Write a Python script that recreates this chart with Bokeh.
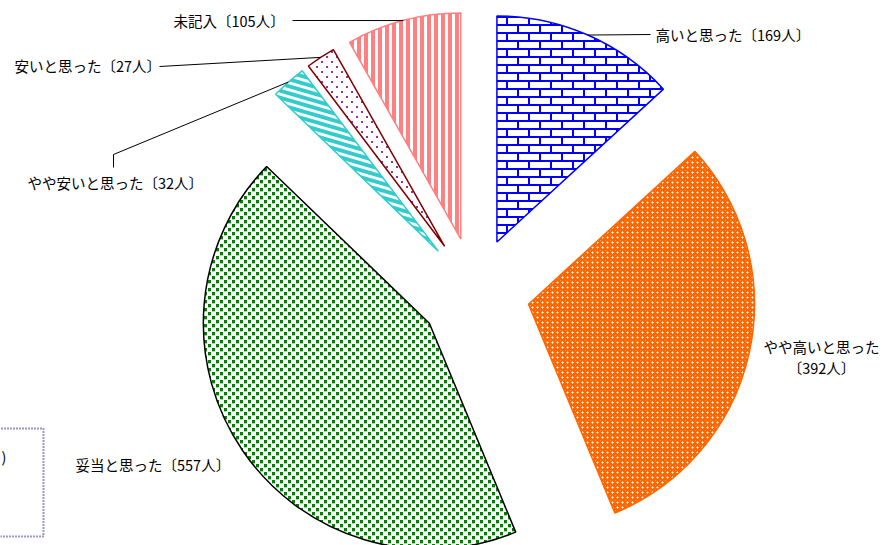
import math, base64
from bokeh.plotting import figure
from bokeh.models import ColumnDataSource, Range1d, ImageURLTexture
from bokeh.core.properties import value
from bokeh.embed import file_html
from bokeh.resources import INLINE

# ---- data ----
categories = ["高いと思った", "やや高いと思った", "妥当と思った", "やや安いと思った", "安いと思った", "未記入"]
counts = [169, 392, 557, 32, 27, 105]
label_texts = ["高いと思った〔169人〕", "やや高いと思った\n〔392人〕", "妥当と思った〔557人〕",
               "やや安いと思った〔32人〕", "安いと思った〔27人〕", "未記入〔105人〕"]

# ---- styles ----
line_colors = ["#0000FF", "#FF6600", "#000000", "#33CCCC", "#800000", "#FF8080"]
line_widths = [1.5, 1.5, 1.5, 1.5, 1.5, 1.5]
patterns = ["brick", "orangeplaid", "greenconf", "cyanstripe", "purpledots", "pinkstripe"]

def svg_uri(body, w, h, crisp=True):
    sr = " shape-rendering='crispEdges'" if crisp else ""
    s = (f"<svg xmlns='http://www.w3.org/2000/svg' width='{w}' height='{h}'{sr}>"
         f"<rect width='{w}' height='{h}' fill='white'/>{body}</svg>")
    return "data:image/svg+xml;base64," + base64.b64encode(s.encode()).decode()

brick = svg_uri("<rect x='0' y='0' width='22' height='2' fill='#0000FF'/>"
                "<rect x='0' y='8' width='22' height='2' fill='#0000FF'/>"
                "<rect x='0' y='0' width='2' height='8' fill='#0000FF'/>"
                "<rect x='11' y='8' width='2' height='8' fill='#0000FF'/>", 22, 16)
orange = svg_uri("<rect width='5' height='5' fill='#FF6600'/>"
                 "<rect x='2' y='1' width='1' height='3' fill='#FFC090'/>"
                 "<rect x='1' y='2' width='3' height='1' fill='#FFC090'/>"
                 "<rect x='2' y='2' width='1' height='1' fill='#FFFFFF'/>"
                 "<rect x='0' y='0' width='1' height='1' fill='#FF9955'/>", 5, 5)
green = svg_uri("<rect x='0' y='0' width='3' height='3' fill='#008000'/>"
                "<rect x='4' y='4' width='3' height='3' fill='#008000'/>"
                "<rect x='0' y='3' width='3' height='1' fill='#A8D4A8'/>"
                "<rect x='4' y='7' width='3' height='1' fill='#A8D4A8'/>", 8, 8)
cyan = svg_uri("<polygon points='0,0 24,7 24,11 0,4' fill='#33CCCC'/>"
               "<polygon points='0,-7 24,0 24,4 0,-3' fill='#33CCCC'/>", 24, 7, crisp=False)
purple = svg_uri("<rect x='1' y='1' width='2' height='2' fill='#993399'/>"
                 "<rect x='6' y='6' width='2' height='2' fill='#993399'/>", 10, 10)
pink = svg_uri("<rect x='0' y='0' width='4' height='7' fill='#FF8080'/>", 7, 7)

hatch_extra = {
    "brick": ImageURLTexture(url=brick),
    "orangeplaid": ImageURLTexture(url=orange),
    "greenconf": ImageURLTexture(url=green),
    "cyanstripe": ImageURLTexture(url=cyan),
    "purpledots": ImageURLTexture(url=purple),
    "pinkstripe": ImageURLTexture(url=pink),
}

# ---- layout (page pixels; data y = PAGE_H - screen y) ----
W, H, PAGE_H = 883, 545, 545
CX, CY = 474.3, PAGE_H - 291.8
R = 226
EXPLODE = 55

total = sum(counts)
starts, ends, xs, ys, arc_x, arc_y = [], [], [], [], [], []
acc = 0
for c in counts:
    a0 = acc / total
    acc += c
    a1 = acc / total
    s = math.radians(90 - 360 * a1)
    e = math.radians(90 - 360 * a0)
    mid = (s + e) / 2
    x0 = CX + EXPLODE * math.cos(mid)
    y0 = CY + EXPLODE * math.sin(mid)
    starts.append(s); ends.append(e); xs.append(x0); ys.append(y0)
    arc_x.append(x0 + R * math.cos(mid)); arc_y.append(y0 + R * math.sin(mid))

src = ColumnDataSource(dict(x=xs, y=ys, start=starts, end=ends, line=line_colors,
                            lw=line_widths, hatch=patterns))

p = figure(width=W, height=H, output_backend="svg", toolbar_location=None,
           x_range=Range1d(0, W), y_range=Range1d(0, H),
           min_border=0, outline_line_color=None)
p.axis.visible = False
p.grid.visible = False
p.background_fill_color = "white"

p.wedge(x="x", y="y", radius=R, start_angle="start", end_angle="end",
        fill_color="white", line_color="line", line_width="lw",
        hatch_pattern="hatch", hatch_extra=hatch_extra, source=src)

# leader lines (label-side points, screen coords)
leader_pts = {0: [(650, 34)], 3: [(113, 154), (113, 167)], 4: [(159, 66)], 5: [(292, 20)]}
lx, ly = [], []
for i, pts in leader_pts.items():
    lx.append([arc_x[i]] + [q[0] for q in pts])
    ly.append([arc_y[i]] + [PAGE_H - q[1] for q in pts])
p.multi_line(xs=lx, ys=ly, line_color="black", line_width=1)

# labels
label_x = [655, 821, 75, 27, 14, 173]
label_y = [34, 356, 464, 182, 65, 20]
label_align = ["left", "center", "left", "left", "left", "left"]
tsrc = ColumnDataSource(dict(x=label_x, y=[PAGE_H - v for v in label_y], t=label_texts, a=label_align))
p.text(x="x", y="y", text="t", text_align="a", text_baseline="middle",
       text_font=value("Noto Sans CJK JP"), text_font_size="14.5px", text_color="black",
       text_line_height=1.0, source=tsrc)

# partially visible dotted note box at bottom-left
p.line(x=[-20, 43, 43, -20], y=[PAGE_H - 428, PAGE_H - 428, PAGE_H - 536, PAGE_H - 536],
       line_color="#333399", line_width=2, line_dash="1 2")
p.text(x=[6], y=[PAGE_H - 456], text=[")"], text_align="right", text_baseline="middle",
       text_font=value("Noto Sans CJK JP"), text_font_size="14.5px", text_color="black")

open("out.html", "w").write(file_html(p, INLINE))
